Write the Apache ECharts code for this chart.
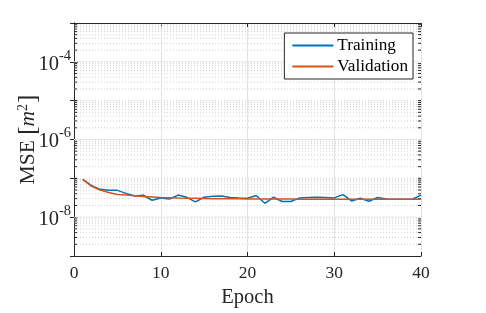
<!DOCTYPE html>
<html>
<head>
<meta charset="utf-8">
<script src="https://cdn.jsdelivr.net/npm/echarts@6/dist/echarts.min.js"></script>
<style>
html,body{margin:0;padding:0;background:#fff;}
#c{width:486px;height:313px;}
</style>
</head>
<body>
<div id="c"></div>
<script>
const epochs = [1,2,3,4,5,6,7,8,9,10,11,12,13,14,15,16,17,18,19,20,21,22,23,24,25,26,27,28,29,30,31,32,33,34,35,36,37,38,39,40];
const training = [9.4e-8,6.6e-8,5.2e-8,4.9e-8,4.9e-8,4.1e-8,3.5e-8,3.67e-8,2.73e-8,3.13e-8,2.94e-8,3.7e-8,3.25e-8,2.47e-8,3.26e-8,3.45e-8,3.5e-8,3.2e-8,3.13e-8,3.07e-8,3.6e-8,2.28e-8,3.26e-8,2.53e-8,2.53e-8,3.13e-8,3.2e-8,3.26e-8,3.2e-8,3.13e-8,3.8e-8,2.62e-8,3.07e-8,2.57e-8,3.2e-8,2.94e-8,2.9e-8,2.9e-8,2.9e-8,3.7e-8];
const validation = [9.4e-8,6.3e-8,5.0e-8,4.3e-8,3.85e-8,3.7e-8,3.55e-8,3.4e-8,3.3e-8,3.2e-8,3.15e-8,3.1e-8,3.07e-8,3.05e-8,3.02e-8,3.0e-8,3.0e-8,2.98e-8,2.97e-8,2.95e-8,2.95e-8,2.94e-8,2.93e-8,2.92e-8,2.92e-8,2.91e-8,2.91e-8,2.9e-8,2.9e-8,2.9e-8,2.9e-8,2.9e-8,2.9e-8,2.9e-8,2.9e-8,2.9e-8,2.9e-8,2.9e-8,2.9e-8,2.9e-8];
const xTicks = [0,10,20,30,40];
const yMin = 1e-9, yMax = 1e-3;
const yLabelExponents = [-8,-6,-4];
const decades = [-9,-8,-7,-6,-5,-4];
const minorMultipliers = [1,2,3,4,5,6,7,8,9];

// horizontal grid rows: [x, value, isMajor]
const gridRows = [];
decades.forEach(e => {
  minorMultipliers.forEach(k => {
    const v = k * Math.pow(10, e);
    if (v <= yMin || v >= yMax) return;
    const major = (k === 1 && yLabelExponents.indexOf(e) >= 0) ? 1 : 0;
    gridRows.push([0, v, major]);
  });
});

const font = 'Liberation Serif';
const txt = '#262626';
const axisCol = '#262626';

const chart = echarts.init(document.getElementById('c'), null, {renderer:'canvas'});
chart.setOption({
  animation: false,
  backgroundColor: '#fff',
  grid: {left: 74, right: 65, top: 23, bottom: 57, containLabel: false, outerBoundsMode: 'none'},
  legend: {
    data: ['Training','Validation'],
    orient: 'vertical',
    right: 73, top: 33,
    padding: [3, 5, 3, 8],
    itemGap: 2,
    itemWidth: 41,
    itemHeight: 2,
    icon: 'rect',
    backgroundColor: '#fff',
    borderColor: '#262626',
    borderWidth: 1,
    borderRadius: 0,
    textStyle: {fontFamily: font, fontSize: 17.2, color: '#000', lineHeight: 19, padding: [0,0,0,-1]}
  },
  xAxis: [{
    type: 'value', min: 0, max: 40, interval: 10,
    name: 'Epoch', nameLocation: 'middle', nameGap: 31,
    nameTextStyle: {fontFamily: font, fontSize: 20.5, color: txt},
    axisLine: {show: true, lineStyle: {color: axisCol, width: 1}},
    axisTick: {show: true, inside: true, length: 4, lineStyle: {color: axisCol}},
    axisLabel: {fontFamily: font, fontSize: 17.5, color: txt, margin: 8},
    splitLine: {show: true, lineStyle: {color: '#e3e3e3', width: 1}}
  },{
    type: 'value', min: 0, max: 40, interval: 10, position: 'top',
    axisLine: {show: true, lineStyle: {color: axisCol, width: 1}},
    axisTick: {show: true, inside: true, length: 4, lineStyle: {color: axisCol}},
    axisLabel: {show: false},
    splitLine: {show: false}
  }],
  yAxis: [{
    type: 'log', logBase: 10, min: yMin, max: yMax, interval: 1,
    name: '{n|MSE }{b|[}{i|m}{s|2}{b|]}',
    nameLocation: 'middle', nameRotate: 90, nameGap: 33,
    nameMoveOverlap: false,
    nameTextStyle: {
      fontFamily: font, color: txt,
      rich: {
        n: {fontFamily: font, fontSize: 21.5, color: txt},
        b: {fontFamily: font, fontSize: 25, color: txt},
        i: {fontFamily: font, fontSize: 21.5, fontStyle: 'italic', color: txt},
        s: {fontFamily: font, fontSize: 14, color: txt, verticalAlign: 'bottom', padding: [0,1,11,0]}
      }
    },
    axisLine: {show: true, lineStyle: {color: axisCol, width: 1}},
    axisTick: {show: true, inside: true, length: 4, lineStyle: {color: axisCol}},
    axisLabel: {
      margin: 3,
      formatter: function (v) {
        const e = Math.round(Math.log10(v));
        if (yLabelExponents.indexOf(e) < 0) return '';
        return '{b|10}{s|' + e + '}';
      },
      rich: {
        b: {fontFamily: font, fontSize: 20.5, color: txt, padding: [5,0,0,0]},
        s: {fontFamily: font, fontSize: 14.5, color: txt, verticalAlign: 'bottom', padding: [0,0,12,0]}
      }
    },
    splitLine: {show: false}
  },{
    type: 'log', logBase: 10, min: yMin, max: yMax, interval: 1, position: 'right',
    axisLine: {show: true, lineStyle: {color: axisCol, width: 1}},
    axisTick: {show: true, inside: true, length: 4, lineStyle: {color: axisCol}},
    axisLabel: {show: false},
    splitLine: {show: false}
  }],
  series: [{
    type: 'custom',
    name: 'grid',
    silent: true,
    z: 1,
    clip: false,
    xAxisIndex: 0, yAxisIndex: 0,
    data: gridRows,
    encode: {x: 0, y: 1},
    renderItem: function (params, api) {
      const v = api.value(1);
      const major = api.value(2);
      const p0 = api.coord([0, v]);
      const p1 = api.coord([40, v]);
      const children = [{
        type: 'line',
        shape: {x1: p0[0], y1: p0[1], x2: p1[0], y2: p1[1]},
        style: major ? {stroke: '#e3e3e3', lineWidth: 1}
                     : {stroke: '#cfcfcf', lineWidth: 1, lineDash: [1, 2]}
      }];
      if (!major) {
        children.push({type: 'line', shape: {x1: p0[0], y1: p0[1], x2: p0[0] + 3, y2: p0[1]}, style: {stroke: axisCol, lineWidth: 1}});
        children.push({type: 'line', shape: {x1: p1[0], y1: p1[1], x2: p1[0] - 3, y2: p1[1]}, style: {stroke: axisCol, lineWidth: 1}});
      }
      return {type: 'group', children: children};
    }
  },{
    name: 'Training', type: 'line',
    data: epochs.map((e, i) => [e, training[i]]),
    showSymbol: false, symbol: 'none',
    lineStyle: {color: '#0072BD', width: 1.5},
    itemStyle: {color: '#0072BD'},
    z: 3
  },{
    name: 'Validation', type: 'line',
    data: epochs.map((e, i) => [e, validation[i]]),
    showSymbol: false, symbol: 'none',
    lineStyle: {color: '#D95319', width: 1.5},
    itemStyle: {color: '#D95319'},
    z: 4
  }]
});
</script>
</body>
</html>
